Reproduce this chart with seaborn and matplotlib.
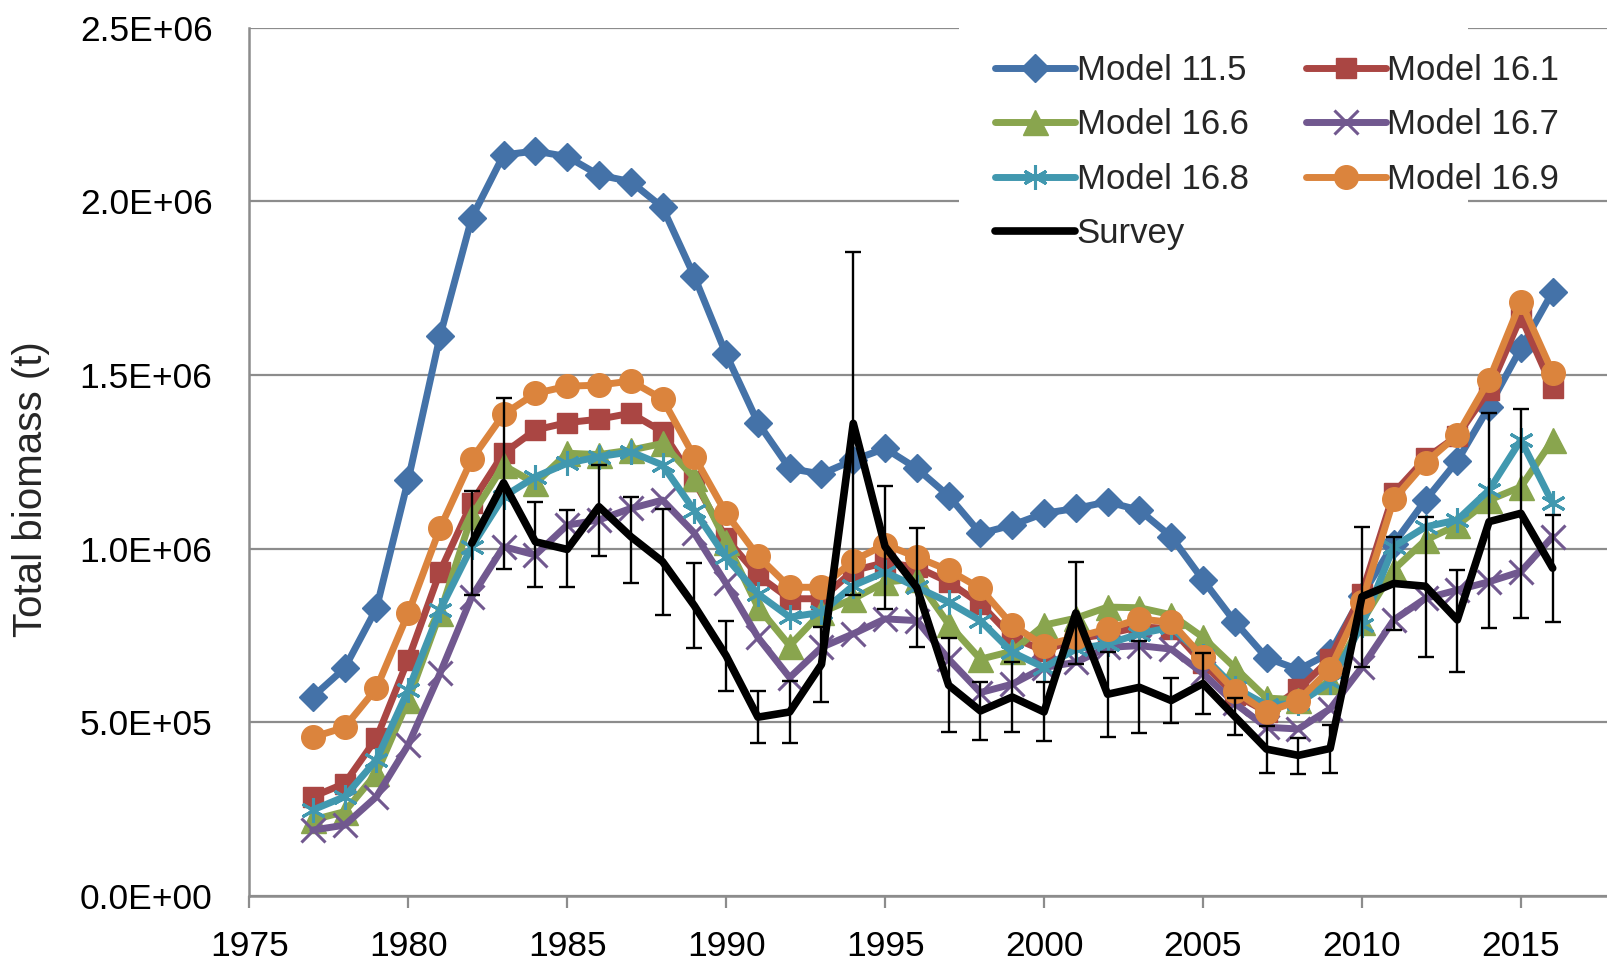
import numpy as np
import pandas as pd
import matplotlib
matplotlib.use("Agg")
import matplotlib.pyplot as plt
import seaborn as sns
from matplotlib.patches import Rectangle
from matplotlib.ticker import FixedLocator, FuncFormatter

# ---- data (total biomass, millions of tonnes) ----
years = list(range(1977, 2017))

model_11_5 = [0.574, 0.656, 0.828, 1.198, 1.612, 1.953, 2.134, 2.145, 2.129, 2.076,
              2.057, 1.983, 1.784, 1.560, 1.363, 1.231, 1.215, 1.255, 1.289, 1.231,
              1.152, 1.044, 1.068, 1.102, 1.116, 1.135, 1.111, 1.035, 0.910, 0.790,
              0.686, 0.652, 0.700, 0.865, 1.015, 1.140, 1.253, 1.409, 1.577, 1.740]
model_16_1 = [0.286, 0.324, 0.454, 0.681, 0.934, 1.133, 1.275, 1.342, 1.363, 1.373,
              1.390, 1.337, 1.195, 1.030, 0.923, 0.856, 0.856, 0.937, 0.960, 0.947,
              0.904, 0.841, 0.745, 0.706, 0.740, 0.755, 0.775, 0.770, 0.670, 0.580,
              0.530, 0.595, 0.683, 0.871, 1.160, 1.260, 1.325, 1.457, 1.668, 1.462]
model_16_6 = [0.219, 0.243, 0.353, 0.564, 0.814, 1.095, 1.240, 1.188, 1.275, 1.271,
              1.284, 1.303, 1.204, 1.020, 0.832, 0.721, 0.817, 0.856, 0.904, 0.913,
              0.783, 0.682, 0.705, 0.780, 0.800, 0.832, 0.830, 0.810, 0.745, 0.658,
              0.570, 0.565, 0.620, 0.790, 0.940, 1.025, 1.068, 1.140, 1.178, 1.313]
model_16_7 = [0.190, 0.204, 0.286, 0.435, 0.641, 0.862, 1.006, 0.982, 1.068, 1.083,
              1.116, 1.140, 1.045, 0.900, 0.745, 0.629, 0.716, 0.755, 0.798, 0.793,
              0.682, 0.586, 0.610, 0.658, 0.673, 0.716, 0.721, 0.711, 0.641, 0.555,
              0.486, 0.481, 0.539, 0.659, 0.795, 0.857, 0.881, 0.905, 0.934, 1.035]
model_16_8 = [0.248, 0.286, 0.392, 0.593, 0.823, 1.006, 1.150, 1.207, 1.246, 1.265,
              1.279, 1.241, 1.110, 0.975, 0.870, 0.803, 0.817, 0.894, 0.933, 0.889,
              0.846, 0.793, 0.702, 0.658, 0.711, 0.726, 0.755, 0.774, 0.692, 0.600,
              0.550, 0.555, 0.615, 0.780, 1.006, 1.063, 1.083, 1.169, 1.313, 1.131]
model_16_9 = [0.457, 0.486, 0.598, 0.814, 1.059, 1.258, 1.387, 1.447, 1.468, 1.471,
              1.483, 1.431, 1.265, 1.102, 0.979, 0.889, 0.889, 0.966, 1.012, 0.976,
              0.938, 0.886, 0.780, 0.721, 0.745, 0.769, 0.798, 0.788, 0.687, 0.591,
              0.529, 0.563, 0.654, 0.847, 1.142, 1.248, 1.327, 1.486, 1.711, 1.507]

survey_years = list(range(1982, 2017))
survey = [1.016, 1.190, 1.020, 0.998, 1.121, 1.035, 0.963, 0.836, 0.692, 0.515,
          0.530, 0.667, 1.361, 1.006, 0.888, 0.607, 0.533, 0.573, 0.530, 0.815,
          0.581, 0.601, 0.563, 0.612, 0.517, 0.423, 0.405, 0.425, 0.862, 0.900,
          0.892, 0.795, 1.078, 1.102, 0.944]
survey_low = [0.867, 0.943, 0.889, 0.889, 0.979, 0.900, 0.809, 0.713, 0.591, 0.440,
              0.442, 0.559, 0.867, 0.827, 0.718, 0.471, 0.449, 0.473, 0.447, 0.668,
              0.458, 0.469, 0.498, 0.524, 0.463, 0.355, 0.350, 0.353, 0.660, 0.766,
              0.689, 0.646, 0.771, 0.800, 0.790]
survey_high = [1.165, 1.434, 1.135, 1.111, 1.240, 1.150, 1.115, 0.960, 0.793, 0.591,
               0.620, 0.774, 1.855, 1.181, 1.059, 0.742, 0.617, 0.673, 0.617, 0.962,
               0.704, 0.733, 0.629, 0.700, 0.570, 0.490, 0.454, 0.492, 1.063, 1.034,
               1.092, 0.939, 1.390, 1.401, 1.097]

series_names = ["Model 11.5", "Model 16.1", "Model 16.6",
                "Model 16.7", "Model 16.8", "Model 16.9"]
series_values = [model_11_5, model_16_1, model_16_6, model_16_7, model_16_8, model_16_9]

y_ticks = [0.0, 0.5e6, 1.0e6, 1.5e6, 2.0e6, 2.5e6]
x_ticks = [1975, 1980, 1985, 1990, 1995, 2000, 2005, 2010, 2015]

# ---- long-form table ----
frames = []
for name, vals in zip(series_names, series_values):
    frames.append(pd.DataFrame({"Year": years,
                                "Biomass": np.array(vals) * 1e6,
                                "Series": name}))
models = pd.concat(frames, ignore_index=True)
surv = pd.DataFrame({"Year": survey_years,
                     "Biomass": np.array(survey) * 1e6,
                     "Low": np.array(survey_low) * 1e6,
                     "High": np.array(survey_high) * 1e6})

# ---- style ----
sns.set_theme(style="white")
plt.rcParams["font.family"] = ["Liberation Sans", "DejaVu Sans"]

colors = {"Model 11.5": "#4472A8", "Model 16.1": "#AA4643", "Model 16.6": "#89A54E",
          "Model 16.7": "#71588F", "Model 16.8": "#4198AF", "Model 16.9": "#DB843D"}
marker_style = {
    "Model 11.5": dict(marker="D", markersize=14, markeredgewidth=1),
    "Model 16.1": dict(marker="s", markersize=14, markeredgewidth=1),
    "Model 16.6": dict(marker="^", markersize=18, markeredgewidth=1),
    "Model 16.7": dict(marker="x", markersize=17, markeredgewidth=2.2),
    "Model 16.8": dict(marker=(6, 2, 0), markersize=18, markeredgewidth=2.2),
    "Model 16.9": dict(marker="o", markersize=17, markeredgewidth=1),
}

fig = plt.figure(figsize=(16.08, 9.64), dpi=100)
ax = fig.add_axes([0.155, 0.0705, 0.845, 0.9007])

grid_gray = "#8C8C8C"
handles = {}
for i, name in enumerate(series_names):
    sub = models[models["Series"] == name]
    sns.lineplot(data=sub, x="Year", y="Biomass", ax=ax, color=colors[name],
                 linewidth=5, markeredgecolor=colors[name], markerfacecolor=colors[name],
                 label=name, zorder=3 + i, legend=False, **marker_style[name])
    handles[name] = ax.lines[-1]

ax.errorbar(surv["Year"], surv["Biomass"],
            yerr=[surv["Biomass"] - surv["Low"], surv["High"] - surv["Biomass"]],
            fmt="none", ecolor="black", elinewidth=1.7, capsize=6, capthick=1.7, zorder=9)
sns.lineplot(data=surv, x="Year", y="Biomass", ax=ax, color="black", linewidth=5.5,
             zorder=10, legend=False, label="Survey")
handles["Survey"] = ax.lines[-1]

# ---- axes ----
ax.set_xlim(1975, 2017.74)
ax.set_ylim(0, 2.5e6)
ax.xaxis.set_major_locator(FixedLocator(x_ticks))
ax.yaxis.set_major_locator(FixedLocator(y_ticks))
ax.yaxis.set_major_formatter(FuncFormatter(lambda v, p: f"{v:.1E}"))
ax.set_xlabel("")
ax.set_ylabel("")
ax.grid(axis="y", color=grid_gray, linewidth=1.6, zorder=0)
ax.set_axisbelow(True)
for side in ["top", "right"]:
    ax.spines[side].set_visible(False)
for side in ["left", "bottom"]:
    ax.spines[side].set_color(grid_gray)
    ax.spines[side].set_linewidth(1.8)
ax.tick_params(axis="both", direction="out", length=8.5, width=1.6, color=grid_gray,
               labelsize=25.5, labelcolor="black")
ax.tick_params(axis="y", pad=18)
ax.tick_params(axis="x", pad=16, bottom=True)

fig.text(0.019, 0.493, "Total biomass (t)", rotation=90, va="center", ha="center",
         fontsize=29)

# white legend panel hiding the gridline behind the key
ax.add_patch(Rectangle((0.5224, 0.738), 0.3746, 0.262, transform=ax.transAxes,
                       facecolor="white", edgecolor="none", zorder=1.5))

order = ["Model 11.5", "Model 16.6", "Model 16.8", "Survey",
         "Model 16.1", "Model 16.7", "Model 16.9"]
leg = ax.legend([handles[n] for n in order], order, ncol=2, loc="upper left",
                bbox_to_anchor=(0.5284, 1.002), frameon=False,
                handlelength=2.3, handletextpad=0.05, columnspacing=1.65,
                labelspacing=0.62, borderpad=0.3, prop={"size": 25})
leg.set_zorder(20)

fig.savefig("out.png", dpi=100, facecolor="white")
